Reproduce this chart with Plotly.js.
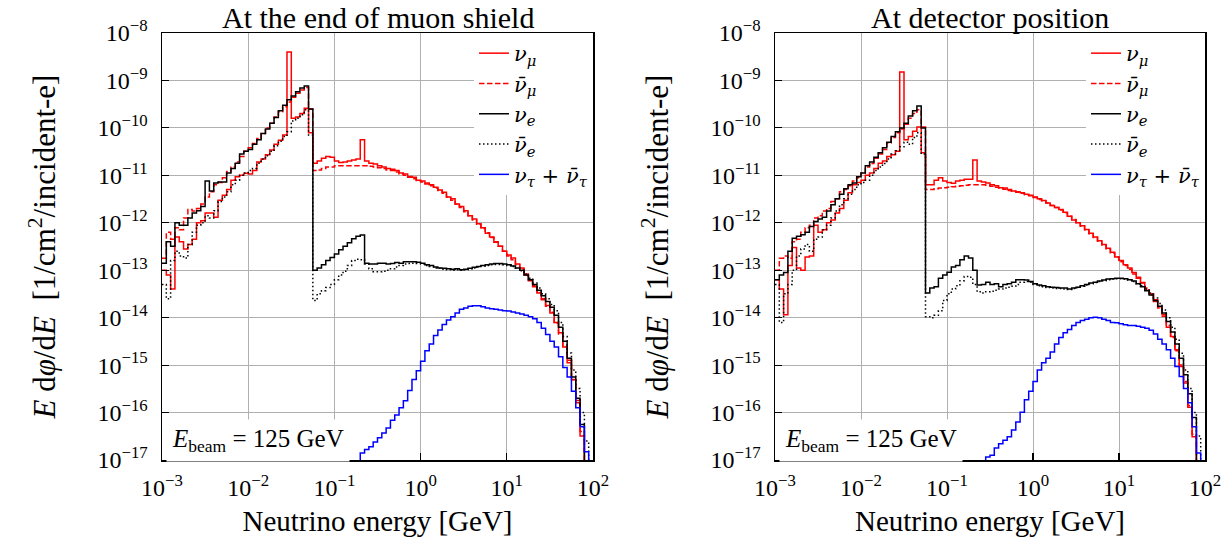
<!DOCTYPE html>
<html>
<head>
<meta charset="utf-8">
<script src="https://cdn.plot.ly/plotly-3.0.1.min.js"></script>
<style>html,body{margin:0;padding:0;background:#fff;}#chart{width:1229px;height:550px;}</style>
</head>
<body>
<div id="chart"></div>
<script>
// ---- Binning: 20 logarithmic bins per decade from 1e-3 to 1e2 GeV ----
const binsPerDecade = 20;
const logEmin = -3;
const nBins = 100;

// ---- Tick labels ----
const xTickVals = [1e-3, 1e-2, 1e-1, 1e0, 1e1, 1e2];
const xTickText = ["10<sup>−3</sup>", "10<sup>−2</sup>", "10<sup>−1</sup>", "10<sup>0</sup>", "10<sup>1</sup>", "10<sup>2</sup>"];
const yTickVals = [1e-17, 1e-16, 1e-15, 1e-14, 1e-13, 1e-12, 1e-11, 1e-10, 1e-9, 1e-8];
const yTickText = ["10<sup>−17</sup>", "10<sup>−16</sup>", "10<sup>−15</sup>", "10<sup>−14</sup>", "10<sup>−13</sup>", "10<sup>−12</sup>", "10<sup>−11</sup>", "10<sup>−10</sup>", "10<sup>−9</sup>", "10<sup>−8</sup>"];

// ---- Series labels ----
const seriesNames = [
  "<i>ν</i><sub><i>μ</i></sub>",
  "<i>ν̄</i><sub><i>μ</i></sub>",
  "<i>ν</i><sub><i>e</i></sub>",
  "<i>ν̄</i><sub><i>e</i></sub>",
  "<i>ν</i><sub><i>τ</i></sub> + <i>ν̄</i><sub><i>τ</i></sub>"
];
const panelTitles = ["At the end of muon shield", "At detector position"];

// ---- Panel 1: at the end of muon shield (E dphi/dE per bin) ----
const numuShield = [
1.0e-13,7.9e-14,4.0e-14,5.0e-13,4.0e-13,2.8e-13,3.5e-13,4.5e-13,1.0e-12,1.1e-12,
1.6e-12,1.6e-12,1.3e-12,3.0e-12,3.8e-12,5.0e-12,7.9e-12,9.3e-12,1.0e-11,1.1e-11,
1.07e-11,1.26e-11,1.9e-11,2.2e-11,2.7e-11,3.4e-11,4.5e-11,5.5e-11,7.1e-11,4.0e-9,
1.6e-10,1.7e-10,2.0e-10,2.6e-10,7.9e-11,1.8e-11,2.0e-11,2.3e-11,2.5e-11,2.4e-11,
2.0e-11,1.86e-11,1.9e-11,2.0e-11,2.1e-11,2.2e-11,5.6e-11,2.0e-11,1.8e-11,1.74e-11,
1.6e-11,1.5e-11,1.4e-11,1.35e-11,1.26e-11,1.12e-11,1.07e-11,9.5e-12,9.1e-12,7.9e-12,
7.6e-12,6.9e-12,6.3e-12,5.6e-12,4.9e-12,4.4e-12,3.5e-12,3.2e-12,2.5e-12,2.2e-12,
1.8e-12,1.4e-12,1.2e-12,9.5e-13,7.9e-13,6.0e-13,5.0e-13,4.0e-13,3.2e-13,2.5e-13,
2.1e-13,1.8e-13,1.35e-13,1.12e-13,7.9e-14,6.3e-14,4.5e-14,3.3e-14,2.5e-14,1.8e-14,
1.26e-14,7.9e-15,4.8e-15,2.4e-15,1.12e-15,4.9e-16,1.6e-16,3.2e-17,1e-20,1e-20];

const numubarShield = [
1.78e-13,6.3e-13,4.5e-13,7.9e-13,7.1e-13,1.26e-12,1.9e-12,1.78e-12,2.0e-12,2.5e-12,
3.5e-12,4.5e-12,6.3e-12,7.1e-12,8.9e-12,1.2e-11,1.5e-11,1.9e-11,2.5e-11,3.2e-11,
3.8e-11,4.7e-11,6.0e-11,7.6e-11,1.0e-10,1.26e-10,1.7e-10,2.2e-10,2.8e-10,3.5e-10,
4.4e-10,5.4e-10,6.3e-10,7.1e-10,2.5e-10,1.26e-11,1.3e-11,1.4e-11,1.5e-11,1.5e-11,
1.6e-11,1.6e-11,1.6e-11,1.6e-11,1.6e-11,1.6e-11,1.6e-11,1.6e-11,1.55e-11,1.5e-11,
1.45e-11,1.4e-11,1.3e-11,1.26e-11,1.17e-11,1.07e-11,1.0e-11,9.1e-12,8.5e-12,7.8e-12,
7.2e-12,6.6e-12,6.0e-12,5.4e-12,4.8e-12,4.2e-12,3.5e-12,3.0e-12,2.5e-12,2.1e-12,
1.7e-12,1.4e-12,1.15e-12,9.3e-13,7.6e-13,6.2e-13,4.9e-13,3.9e-13,3.2e-13,2.5e-13,
2.0e-13,1.66e-13,1.3e-13,1.05e-13,8.3e-14,6.0e-14,4.7e-14,3.4e-14,2.4e-14,1.74e-14,
1.3e-14,7.6e-15,4.5e-15,2.5e-15,1.26e-15,5.0e-16,1.8e-16,4.0e-17,1e-20,1e-20];

const nueShield = [
1.4e-13,4.0e-13,3.2e-13,1.0e-12,8.9e-13,8.9e-13,1.26e-12,1.6e-12,1.8e-12,2.2e-12,
7.6e-12,4.7e-12,6.9e-12,7.2e-12,7.2e-12,1.12e-11,1.4e-11,1.8e-11,2.8e-11,3.2e-11,
3.5e-11,4.5e-11,5.6e-11,7.6e-11,9.5e-11,1.26e-10,1.66e-10,2.3e-10,3.0e-10,3.9e-10,
4.7e-10,5.8e-10,6.9e-10,7.6e-10,2.5e-10,1.0e-13,1.12e-13,1.3e-13,1.6e-13,1.86e-13,
2.2e-13,2.7e-13,3.2e-13,3.8e-13,4.6e-13,5.2e-13,5.5e-13,1.4e-13,1.35e-13,1.35e-13,
1.4e-13,1.4e-13,1.35e-13,1.38e-13,1.45e-13,1.4e-13,1.5e-13,1.5e-13,1.5e-13,1.48e-13,
1.4e-13,1.3e-13,1.26e-13,1.17e-13,1.12e-13,1.1e-13,1.07e-13,1.05e-13,1.07e-13,1.02e-13,
1.05e-13,1.1e-13,1.15e-13,1.2e-13,1.26e-13,1.3e-13,1.35e-13,1.38e-13,1.38e-13,1.35e-13,
1.3e-13,1.23e-13,1.12e-13,1.0e-13,7.9e-14,6.3e-14,5.0e-14,3.8e-14,2.9e-14,2.2e-14,
1.66e-14,1.12e-14,6.3e-15,3.2e-15,1.4e-15,5.6e-16,2.0e-16,5.6e-17,1e-20,1e-20];

const nuebarShield = [
5.0e-14,2.5e-14,1.6e-13,2.5e-13,2.0e-13,1.8e-13,3.5e-13,6.3e-13,8.9e-13,1.0e-12,
1.4e-12,1.26e-12,1.8e-12,2.8e-12,3.5e-12,4.5e-12,6.3e-12,7.9e-12,1.0e-11,1.12e-11,
1.26e-11,1.4e-11,1.8e-11,2.2e-11,2.6e-11,3.2e-11,4.2e-11,5.2e-11,6.6e-11,8.3e-11,
1.4e-10,1.6e-10,1.9e-10,2.4e-10,7.1e-11,2.3e-14,3.2e-14,3.7e-14,4.3e-14,5.0e-14,
6.3e-14,7.9e-14,9.5e-14,1.26e-13,1.6e-13,1.7e-13,1.66e-13,1.35e-13,1.07e-13,9.3e-14,
9.3e-14,9.5e-14,1.0e-13,1.07e-13,1.17e-13,1.26e-13,1.35e-13,1.38e-13,1.4e-13,1.38e-13,
1.35e-13,1.26e-13,1.2e-13,1.12e-13,1.1e-13,1.05e-13,1.02e-13,1.0e-13,1.02e-13,1.0e-13,
1.02e-13,1.07e-13,1.12e-13,1.17e-13,1.23e-13,1.26e-13,1.3e-13,1.32e-13,1.32e-13,1.3e-13,
1.26e-13,1.2e-13,1.1e-13,9.8e-14,8.3e-14,6.8e-14,5.4e-14,4.2e-14,3.2e-14,2.5e-14,
1.9e-14,1.4e-14,7.9e-15,4.0e-15,1.8e-15,7.9e-16,3.2e-16,1.0e-16,2.5e-17,1e-20];

const nutauShield = [
null,null,null,null,null,null,null,null,null,null,
null,null,null,null,null,null,null,null,null,null,
null,null,null,null,null,null,null,null,null,null,
null,null,null,null,null,null,null,null,null,null,
null,null,null,null,null,7.9e-18,1.4e-17,1.66e-17,1.9e-17,2.4e-17,
2.95e-17,3.7e-17,4.7e-17,6.9e-17,8.9e-17,1.26e-16,1.78e-16,2.9e-16,5.0e-16,7.6e-16,
1.2e-15,2.0e-15,2.8e-15,4.2e-15,5.5e-15,7.2e-15,8.9e-15,1.05e-14,1.26e-14,1.5e-14,
1.6e-14,1.74e-14,1.78e-14,1.78e-14,1.7e-14,1.6e-14,1.55e-14,1.5e-14,1.45e-14,1.4e-14,
1.38e-14,1.32e-14,1.26e-14,1.2e-14,1.12e-14,1.05e-14,9.5e-15,7.9e-15,6.0e-15,4.4e-15,
3.2e-15,2.4e-15,1.5e-15,8.9e-16,5.6e-16,2.8e-16,1.26e-16,5.0e-17,1.5e-17,1e-20];

// ---- Panel 2: at detector position ----
const numuDet = [
6.3e-14,4.0e-14,1.15e-14,1.26e-13,3.0e-13,1.12e-13,1.0e-13,1.9e-13,2.0e-13,8.9e-13,
6.3e-13,7.1e-13,1.0e-12,1.15e-12,1.6e-12,2.0e-12,3.0e-12,4.3e-12,6.3e-12,7.1e-12,
7.9e-12,1.0e-11,1.12e-11,1.4e-11,1.8e-11,2.0e-11,2.5e-11,2.7e-11,3.2e-11,1.5e-9,
5.6e-11,6.6e-11,8.5e-11,1.05e-10,3.0e-11,6.3e-12,6.3e-12,7.9e-12,8.9e-12,7.6e-12,
7.1e-12,6.8e-12,7.6e-12,7.9e-12,8.3e-12,8.3e-12,2.1e-11,7.6e-12,7.2e-12,6.9e-12,
6.3e-12,6.0e-12,5.5e-12,5.4e-12,5.0e-12,4.7e-12,4.5e-12,4.3e-12,4.0e-12,3.8e-12,
3.5e-12,3.2e-12,2.95e-12,2.6e-12,2.3e-12,2.1e-12,1.9e-12,1.66e-12,1.38e-12,1.15e-12,
1.0e-12,8.7e-13,7.2e-13,6.0e-13,5.0e-13,4.2e-13,3.5e-13,2.9e-13,2.4e-13,1.9e-13,
1.6e-13,1.3e-13,1.12e-13,8.9e-14,7.1e-14,5.4e-14,3.8e-14,3.2e-14,2.4e-14,1.7e-14,
1.15e-14,6.3e-15,4.0e-15,2.1e-15,9.3e-16,4.2e-16,1.3e-16,3.1e-17,1e-20,1e-20];

const numubarDet = [
1.0e-13,1.78e-13,2.0e-13,1.78e-13,4.0e-13,4.5e-13,6.3e-13,7.9e-13,8.9e-13,1.26e-12,
1.4e-12,1.78e-12,2.0e-12,2.8e-12,3.2e-12,4.5e-12,5.0e-12,6.0e-12,7.6e-12,8.9e-12,
1.12e-11,1.5e-11,1.78e-11,2.3e-11,2.8e-11,3.5e-11,4.8e-11,6.3e-11,7.9e-11,9.5e-11,
1.2e-10,1.6e-10,2.0e-10,2.4e-10,1.05e-10,5.0e-12,5.0e-12,5.2e-12,5.4e-12,5.5e-12,
5.6e-12,5.75e-12,5.9e-12,6.0e-12,6.2e-12,6.3e-12,6.3e-12,6.3e-12,6.3e-12,6.2e-12,
5.9e-12,5.6e-12,5.4e-12,5.1e-12,4.8e-12,4.6e-12,4.4e-12,4.2e-12,3.9e-12,3.7e-12,
3.4e-12,3.1e-12,2.9e-12,2.6e-12,2.3e-12,2.1e-12,1.86e-12,1.62e-12,1.38e-12,1.17e-12,
1.0e-12,8.5e-13,7.1e-13,5.9e-13,4.9e-13,4.1e-13,3.4e-13,2.8e-13,2.3e-13,1.9e-13,
1.5e-13,1.26e-13,1.05e-13,8.3e-14,6.8e-14,5.5e-14,4.2e-14,3.0e-14,2.2e-14,1.6e-14,
1.07e-14,6.8e-15,3.8e-15,2.0e-15,1.0e-15,4.5e-16,1.4e-16,3.5e-17,1e-20,1e-20];

const nueDet = [
6.3e-14,7.9e-14,8.9e-14,2.5e-13,4.7e-13,5.2e-13,5.6e-13,6.3e-13,8.3e-13,1.07e-12,
1.2e-12,1.3e-12,1.78e-12,2.4e-12,3.2e-12,4.0e-12,5.2e-12,6.3e-12,6.9e-12,9.3e-12,
1.12e-11,1.6e-11,1.9e-11,2.4e-11,3.0e-11,3.8e-11,5.0e-11,6.6e-11,8.3e-11,1.0e-10,
1.26e-10,1.78e-10,2.3e-10,2.9e-10,1.0e-10,3.3e-14,4.2e-14,4.5e-14,6.8e-14,7.9e-14,
9.1e-14,1.17e-13,1.26e-13,1.66e-13,2.0e-13,1.8e-13,1.0e-13,4.9e-14,5.0e-14,5.6e-14,
5.0e-14,5.2e-14,4.5e-14,5.0e-14,5.2e-14,5.6e-14,6.3e-14,6.3e-14,6.2e-14,5.75e-14,
5.2e-14,4.9e-14,4.7e-14,4.5e-14,4.4e-14,4.3e-14,4.2e-14,4.2e-14,4.0e-14,4.2e-14,
4.4e-14,4.7e-14,5.0e-14,5.4e-14,5.6e-14,5.9e-14,6.2e-14,6.5e-14,6.6e-14,6.8e-14,
6.8e-14,6.6e-14,6.3e-14,5.9e-14,5.2e-14,4.5e-14,3.7e-14,3.0e-14,2.3e-14,1.74e-14,
1.26e-14,8.3e-15,5.0e-15,2.8e-15,1.4e-15,6.3e-16,2.5e-16,7.9e-17,1e-20,1e-20];

const nuebarDet = [
5.0e-14,7.9e-15,3.2e-14,5.0e-14,1.0e-13,2.0e-13,2.8e-13,3.5e-13,2.5e-13,4.5e-13,
5.0e-13,7.1e-13,8.9e-13,1.26e-12,1.78e-12,2.4e-12,3.2e-12,4.0e-12,5.0e-12,6.3e-12,
7.1e-12,7.9e-12,1.0e-11,1.26e-11,1.5e-11,1.78e-11,2.2e-11,2.8e-11,3.3e-11,4.0e-11,
5.0e-11,4.5e-11,6.3e-11,7.9e-11,2.8e-11,1.05e-14,1.0e-14,1.12e-14,1.4e-14,2.3e-14,
3.2e-14,4.0e-14,4.7e-14,6.0e-14,7.4e-14,7.1e-14,5.0e-14,3.5e-14,3.3e-14,3.5e-14,
3.6e-14,3.8e-14,4.0e-14,4.2e-14,4.4e-14,4.6e-14,5.0e-14,5.6e-14,5.75e-14,5.6e-14,
5.0e-14,4.7e-14,4.5e-14,4.3e-14,4.2e-14,4.1e-14,4.1e-14,4.0e-14,3.9e-14,4.1e-14,
4.3e-14,4.6e-14,4.9e-14,5.2e-14,5.5e-14,5.75e-14,6.0e-14,6.3e-14,6.5e-14,6.6e-14,
6.6e-14,6.5e-14,6.2e-14,5.75e-14,5.2e-14,4.7e-14,4.0e-14,3.3e-14,2.6e-14,2.0e-14,
1.45e-14,1.0e-14,6.3e-15,3.5e-15,1.78e-15,7.9e-16,3.2e-16,1.0e-16,3.2e-17,1e-20];

const nutauDet = [
null,null,null,null,null,null,null,null,null,null,
null,null,null,null,null,null,null,null,null,null,
null,null,null,null,null,null,null,null,null,null,
null,null,null,null,null,null,null,null,null,null,
null,null,null,null,null,null,null,null,7.9e-18,1.15e-17,
1.26e-17,1.78e-17,2.2e-17,2.6e-17,3.1e-17,4.3e-17,6.3e-17,1.02e-16,1.86e-16,2.8e-16,
4.5e-16,7.9e-16,1.12e-15,1.4e-15,1.9e-15,2.8e-15,3.8e-15,4.8e-15,5.6e-15,6.8e-15,
7.9e-15,8.7e-15,9.3e-15,1.0e-14,1.02e-14,1.0e-14,9.3e-15,8.7e-15,7.9e-15,7.8e-15,
7.4e-15,7.1e-15,6.8e-15,6.8e-15,6.6e-15,6.3e-15,6.0e-15,5.4e-15,4.5e-15,3.5e-15,
2.8e-15,2.1e-15,1.4e-15,9.3e-16,5.75e-16,3.2e-16,1.6e-16,5.0e-17,1.4e-17,1e-20];

// ---- Build ----
const FONT = 'Liberation Serif, DejaVu Serif, serif';
const LEGFONT = 'DejaVu Serif, Liberation Serif, serif';
const binEdges = [];
for (let i = 0; i <= nBins; i++) binEdges.push(Math.pow(10, logEmin + i / binsPerDecade));

// minor tick positions (2..9 x each decade) for the log axes
const minorTicks = [];
for (let d = -17; d <= 1; d++) for (let m = 2; m <= 9; m++) minorTicks.push(m * Math.pow(10, d));

const styles = [
  {color: '#ff0000', width: 1.5},
  {color: '#ff0000', width: 1.5, dash: '5.5px,2.5px'},
  {color: '#000000', width: 1.5},
  {color: '#000000', width: 1.5, dash: '1.5px,2.5px'},
  {color: '#0000ff', width: 1.5}
];

function stepTrace(vals, k, xa, ya, leg) {
  return {
    type: 'scatter', mode: 'lines',
    x: binEdges, y: vals.concat([vals[vals.length - 1]]),
    line: Object.assign({shape: 'hv'}, styles[k]),
    name: seriesNames[k], xaxis: xa, yaxis: ya, legend: leg,
    showlegend: true, connectgaps: false
  };
}

const panel1 = [numuShield, numubarShield, nueShield, nuebarShield, nutauShield];
const panel2 = [numuDet, numubarDet, nueDet, nuebarDet, nutauDet];
const data = [];
panel1.forEach((v, k) => data.push(stepTrace(v, k, 'x', 'y', 'legend')));
panel2.forEach((v, k) => data.push(stepTrace(v, k, 'x2', 'y2', 'legend2')));

const W = 1229, H = 550;
const p1 = [162, 593], p2 = [775, 1205], py = [33, 460];
const ydom = [1 - py[1] / H, 1 - py[0] / H];

function xAxis(dom, anchor) {
  return {
    type: 'log', domain: [dom[0] / W, dom[1] / W], range: [-3, 2], anchor: anchor,
    showline: true, linecolor: 'black', linewidth: 1.5, mirror: true,
    ticks: 'inside', ticklen: 7, tickwidth: 1.2, tickcolor: 'black',
    tickmode: 'array', tickvals: xTickVals, ticktext: xTickText,
    tickfont: {family: FONT, size: 24, color: 'black'}, ticklabelstandoff: 6,
    showgrid: true, gridcolor: '#b0b0b0', gridwidth: 1, zeroline: false,
    title: {text: 'Neutrino energy [GeV]', font: {family: FONT, size: 29, color: 'black'}, standoff: 10},
    automargin: false
  };
}
function yAxis(anchor) {
  return {
    type: 'log', domain: ydom, range: [-17, -8], anchor: anchor,
    showline: true, linecolor: 'black', linewidth: 1.5, mirror: true,
    ticks: 'inside', ticklen: 7, tickwidth: 1.2, tickcolor: 'black',
    tickmode: 'array', tickvals: yTickVals, ticktext: yTickText,
    tickfont: {family: FONT, size: 24, color: 'black'}, ticklabelstandoff: 8,
    showgrid: true, gridcolor: '#b0b0b0', gridwidth: 1, zeroline: false,
    title: {text: '\u00a0\u00a0\u00a0\u00a0\u00a0\u00a0<i>E</i> d<i>φ</i>/d<i>E</i>  [1/cm<sup>2</sup>/incident-e]', font: {family: FONT, size: 31, color: 'black'}, standoff: 32},
    automargin: false
  };
}
// overlay axes carrying only the small minor ticks
function xMinor(dom, over, anchor) {
  return {type: 'log', domain: [dom[0] / W, dom[1] / W], range: [-3, 2], overlaying: over, anchor: anchor, side: 'bottom',
    tickmode: 'array', tickvals: minorTicks, ticks: 'inside', ticklen: 4, tickwidth: 0.9, tickcolor: 'black',
    showticklabels: false, showgrid: false, showline: false, zeroline: false, automargin: false};
}
function yMinor(over, anchor) {
  return {type: 'log', domain: ydom, range: [-17, -8], overlaying: over, anchor: anchor, side: 'left',
    tickmode: 'array', tickvals: minorTicks, ticks: 'inside', ticklen: 4, tickwidth: 0.9, tickcolor: 'black',
    showticklabels: false, showgrid: false, showline: false, zeroline: false, automargin: false};
}

function legendAt(xr) {
  return {
    x: xr / W, xanchor: 'right', y: 1 - py[0] / H, yanchor: 'top',
    bgcolor: 'white', borderwidth: 0, font: {family: LEGFONT, size: 21, color: 'black'},
    tracegroupgap: 0, itemclick: false
  };
}

const layout = {
  width: W, height: H,
  margin: {l: 0, r: 0, t: 0, b: 0},
  paper_bgcolor: 'white', plot_bgcolor: 'white',
  font: {family: FONT, color: 'black'},
  xaxis: xAxis(p1, 'y'),
  yaxis: yAxis('x'),
  xaxis2: xAxis(p2, 'y2'),
  yaxis2: yAxis('x2'),
  xaxis3: xMinor(p1, 'x', 'y'),
  yaxis3: yMinor('y', 'x'),
  xaxis4: xMinor(p2, 'x2', 'y2'),
  yaxis4: yMinor('y2', 'x2'),
  legend: legendAt(p1[1]),
  legend2: legendAt(p2[1]),
  annotations: [
    {text: panelTitles[0], xref: 'paper', yref: 'paper', x: (p1[0] + p1[1]) / 2 / W, y: 1, xanchor: 'center', yanchor: 'top', borderpad: 0, showarrow: false, font: {family: FONT, size: 30, color: 'black'}},
    {text: panelTitles[1], xref: 'paper', yref: 'paper', x: (p2[0] + p2[1]) / 2 / W, y: 1, xanchor: 'center', yanchor: 'top', borderpad: 0, showarrow: false, font: {family: FONT, size: 30, color: 'black'}},
    {text: '<i>E</i><sub>beam</sub> = 125 GeV', xref: 'paper', yref: 'paper', x: 166 / W, y: 1 - 440 / H, xanchor: 'left', yanchor: 'middle', showarrow: false, bgcolor: 'white', borderpad: 5, font: {family: FONT, size: 25, color: 'black'}},
    {text: '<i>E</i><sub>beam</sub> = 125 GeV', xref: 'paper', yref: 'paper', x: 779 / W, y: 1 - 440 / H, xanchor: 'left', yanchor: 'middle', showarrow: false, bgcolor: 'white', borderpad: 5, font: {family: FONT, size: 25, color: 'black'}}
  ]
};

Plotly.newPlot('chart', data, layout, {staticPlot: true, displayModeBar: false});
</script>
</body>
</html>
